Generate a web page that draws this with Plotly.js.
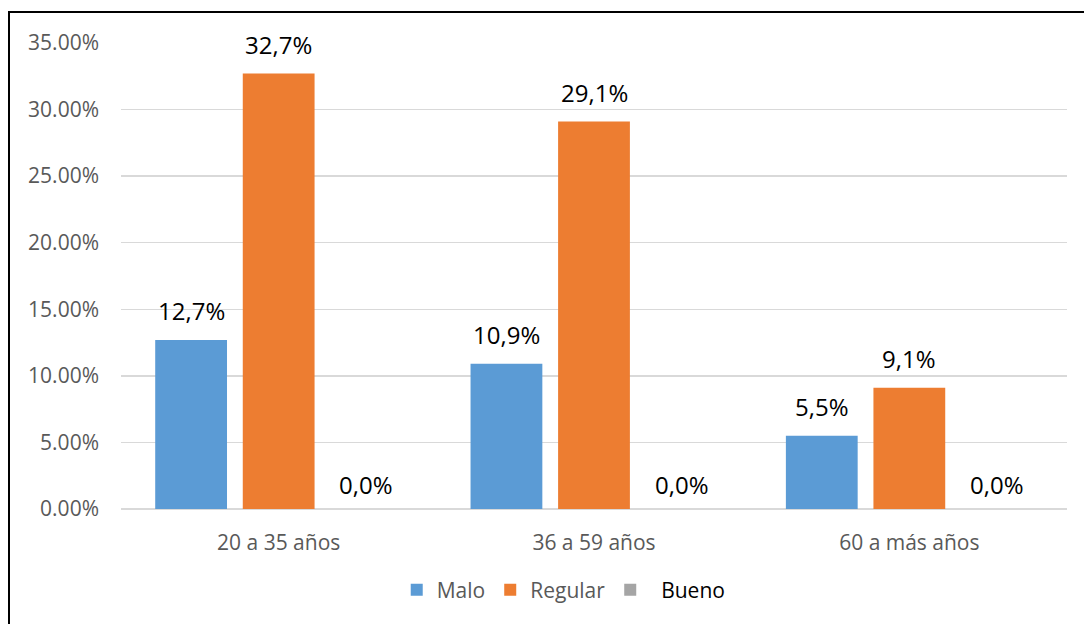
<!DOCTYPE html>
<html>
<head>
<meta charset="utf-8">
<script src="https://cdn.plot.ly/plotly-3.0.1.min.js"></script>
<style>
html,body{margin:0;padding:0;background:#fff;overflow:hidden;}
#frame{position:absolute;left:8px;top:11px;width:1100px;height:700px;border:2px solid #000;box-sizing:border-box;}
#chart{position:absolute;left:0;top:0;width:1084px;height:624px;}
</style>
</head>
<body>
<div id="frame"></div>
<div id="chart"></div>
<script>
const categories = ["20 a 35 años", "36 a 59 años", "60 a más años"];
const seriesNames = ["Malo", "Regular", "Bueno"];
const malo = [0.127, 0.109, 0.055];
const regular = [0.327, 0.291, 0.091];
const bueno = [0.0, 0.0, 0.0];
const yTickVals = [0, 0.05, 0.10, 0.15, 0.20, 0.25, 0.30, 0.35];
const yTickText = ["0.00%", "5.00%", "10.00%", "15.00%", "20.00%", "25.00%", "30.00%", "35.00%"];

const colors = ["#5B9BD5", "#ED7D31", "#A5A5A5"];
const series = [malo, regular, bueno];
const fmt = v => (v * 100).toFixed(1).replace(".", ",") + "%";

const W = 1084, H = 624;
const margin = {l: 121, r: 17, t: 43, b: 115};
const bargap = 0.167, bargroupgap = 0.18;
const plotW = W - margin.l - margin.r;
const catW = plotW / categories.length;
const slot = catW * (1 - bargap) / series.length;

const traces = series.map((vals, i) => ({
  type: "bar",
  x: categories,
  y: vals,
  name: i === 2 ? '&nbsp;&nbsp;<span style="color:#000000">Bueno</span>' : seriesNames[i],
  marker: {color: colors[i]},
  hoverinfo: "none"
}));

const annotations = [];
series.forEach((vals, i) => {
  vals.forEach((v, j) => {
    annotations.push({
      x: categories[j], y: v, xref: "x", yref: "y",
      text: fmt(v), showarrow: false,
      xanchor: "center", yanchor: "bottom",
      xshift: (i - 1) * slot, yshift: v === 0 ? 6 : 11,
      font: {family: "Open Sans, sans-serif", size: 24, color: "#000000"}
    });
  });
});

const layout = {
  width: W, height: H,
  margin: margin,
  paper_bgcolor: "rgba(0,0,0,0)",
  plot_bgcolor: "rgba(0,0,0,0)",
  barmode: "group",
  bargap: bargap,
  bargroupgap: bargroupgap,
  font: {family: "Open Sans, sans-serif", color: "#595959"},
  xaxis: {
    type: "category",
    showgrid: false,
    showline: false,
    ticks: "",
    tickfont: {size: 21, color: "#595959"},
    ticklabelstandoff: 19,
    fixedrange: true
  },
  yaxis: {
    range: [0, 0.35],
    tickvals: yTickVals,
    ticktext: yTickText,
    showgrid: true,
    gridcolor: "#D9D9D9",
    gridwidth: 1.5,
    zeroline: true,
    zerolinecolor: "#D9D9D9",
    zerolinewidth: 1.5,
    showline: false,
    ticks: "",
    tickfont: {size: 21, color: "#595959"},
    ticklabelstandoff: 21,
    fixedrange: true
  },
  showlegend: true,
  legend: {
    orientation: "h",
    x: 0.468, xanchor: "center",
    y: -0.13, yanchor: "top",
    font: {size: 21, color: "#595959"},
    itemwidth: 30,
    traceorder: "normal"
  },
  annotations: annotations
};

Plotly.newPlot("chart", traces, layout, {displayModeBar: false, staticPlot: true});
</script>
</body>
</html>
